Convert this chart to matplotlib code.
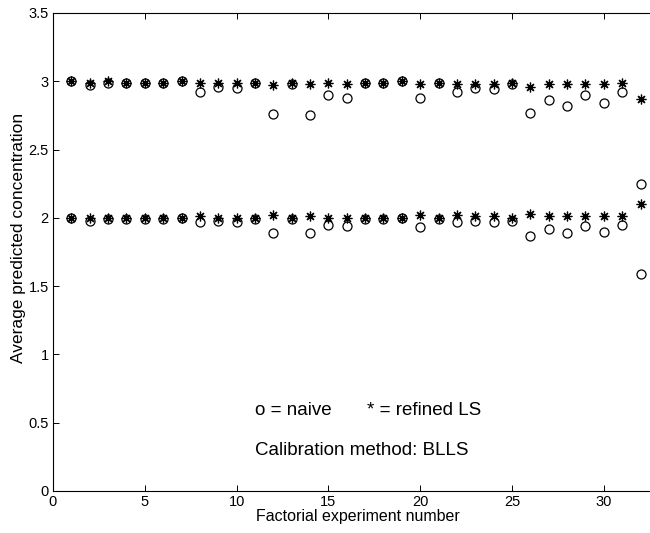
import numpy as np
import matplotlib
matplotlib.use("Agg")
import matplotlib.pyplot as plt

# experiment numbers 1..32
experiment = np.arange(1, 33)

# component with true value 3
naive_hi = [3.00, 2.97, 2.99, 2.99, 2.99, 2.99, 3.00, 2.92, 2.96, 2.95,
            2.99, 2.76, 2.98, 2.75, 2.90, 2.88, 2.99, 2.99, 3.00, 2.88,
            2.99, 2.92, 2.95, 2.94, 2.98, 2.77, 2.86, 2.82, 2.90, 2.84,
            2.92, 2.25]
refined_hi = [3.00, 2.99, 3.00, 2.99, 2.99, 2.99, 3.00, 2.99, 2.99, 2.99,
              2.99, 2.97, 2.99, 2.98, 2.99, 2.98, 2.99, 2.99, 3.00, 2.98,
              2.99, 2.98, 2.98, 2.98, 2.99, 2.96, 2.98, 2.98, 2.98, 2.98,
              2.99, 2.87]

# component with true value 2
naive_lo = [2.00, 1.98, 1.99, 1.99, 1.99, 1.99, 2.00, 1.97, 1.98, 1.97,
            1.99, 1.89, 1.99, 1.89, 1.95, 1.94, 1.99, 1.99, 2.00, 1.93,
            1.99, 1.97, 1.98, 1.97, 1.98, 1.87, 1.92, 1.89, 1.94, 1.90,
            1.95, 1.59]
refined_lo = [2.00, 2.00, 2.00, 2.00, 2.00, 2.00, 2.00, 2.01, 2.00, 2.00,
              2.00, 2.02, 2.00, 2.01, 2.00, 2.00, 2.00, 2.00, 2.00, 2.02,
              2.00, 2.02, 2.01, 2.01, 2.00, 2.03, 2.01, 2.01, 2.01, 2.01,
              2.01, 2.10]

xticks = [0, 5, 10, 15, 20, 25, 30]
yticks = [0, 0.5, 1, 1.5, 2, 2.5, 3, 3.5]
yticklabels = ['0', '0.5', '1', '1.5', '2', '2.5', '3', '3.5']

plt.rcParams['font.family'] = ['Liberation Sans', 'DejaVu Sans']

fig = plt.figure(figsize=(6.5, 5.33), dpi=100)
# the axes box runs past the right edge of the figure (cropped like the original)
ax = fig.add_axes([53 / 650, 1 - 491 / 533, 35 * 18.36 / 650, 478 / 533])

star = (8, 2, 0)
for y in (naive_hi, naive_lo):
    ax.plot(experiment, y, linestyle='none', marker='o', markersize=6.5,
            markerfacecolor='none', markeredgecolor='black', markeredgewidth=0.9,
            clip_on=False)
for y in (refined_hi, refined_lo):
    ax.plot(experiment, y, linestyle='none', marker=star, markersize=7,
            color='black', markeredgewidth=0.9, clip_on=False)

ax.set_xlim(0, 35)
ax.set_ylim(0, 3.5)
ax.set_xticks(xticks)
ax.set_yticks(yticks)
ax.set_yticklabels(yticklabels)
ax.tick_params(direction='in', length=4, width=0.7, labelsize=10.5,
               top=True, right=True, pad=3)
for s in ax.spines.values():
    s.set_linewidth(0.8)

ax.set_xlabel('Factorial experiment number', fontsize=11.5)
ax.xaxis.set_label_coords(0.475, -0.038)
ax.set_ylabel('Average predicted concentration', fontsize=12.5)
ax.yaxis.set_label_coords(-0.042, 0.53)

ax.text(11.0, 0.59, 'o = naive', fontsize=13.5, va='center')
ax.text(17.1, 0.59, '* = refined LS', fontsize=13.5, va='center')
ax.text(11.0, 0.30, 'Calibration method: BLLS', fontsize=13.5, va='center')

fig.savefig('out.png', dpi=100)
